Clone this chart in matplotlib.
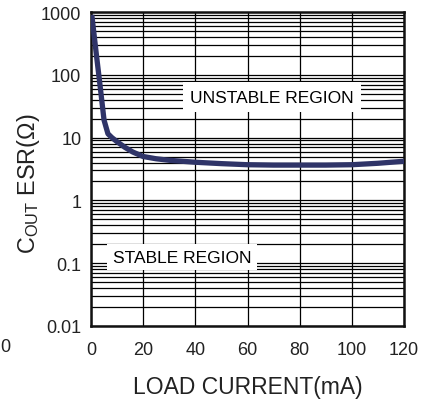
import numpy as np
import matplotlib
matplotlib.use('Agg')
import matplotlib.pyplot as plt

plt.rcParams['font.family'] = ['Liberation Sans', 'DejaVu Sans']
plt.rcParams['mathtext.default'] = 'regular'

# curva (corrente em mA, ESR em ohm)
corrente = [0.3, 2, 3.5, 5, 6.5, 8, 10, 13, 16, 20, 25, 30, 40, 50, 60, 70, 80, 90, 100, 110, 120]
esr = [900, 220, 66, 19, 11.5, 10, 8.6, 7.0, 5.9, 5.0, 4.6, 4.35, 4.05, 3.85, 3.7, 3.65, 3.65, 3.65, 3.7, 3.9, 4.2]

x_ticks = [0, 20, 40, 60, 80, 100, 120]
y_ticks = [0.01, 0.1, 1, 10, 100, 1000]
y_labels = ['0.01', '0.1', '1', '10', '100', '1000']

fig = plt.figure(figsize=(4.23, 4.02), dpi=100)
ax = fig.add_axes([91 / 423, 1 - 327 / 402, 313 / 423, 314 / 402])

ax.plot(corrente, esr, color='#2f3468', lw=3.8, solid_capstyle='butt', zorder=3)

ax.set_yscale('log')
ax.set_xlim(0, 120)
ax.set_ylim(0.01, 1000)
ax.set_xticks(x_ticks)
ax.set_yticks(y_ticks)
ax.set_yticklabels(y_labels)
ax.tick_params(axis='both', which='both', length=0, labelsize=13, colors='#222222')
ax.tick_params(axis='x', pad=11)
ax.tick_params(axis='y', pad=7)

ax.grid(True, which='major', color='black', lw=0.9)
ax.grid(True, which='minor', axis='y', color='black', lw=0.9)
ax.set_axisbelow(True)

for s in ax.spines.values():
    s.set_linewidth(1.8)
    s.set_color('#111111')

ax.set_xlabel('LOAD CURRENT(mA)', fontsize=16.5, color='#222222', labelpad=12)
ax.set_ylabel(r'C$_{OUT}$ ESR(Ω)', fontsize=16.8, color='#222222')
ax.yaxis.set_label_coords(-0.155, 0.455)

ax.text(69.5, 44, 'UNSTABLE REGION', fontsize=12.5, ha='center', va='center', zorder=2,
        bbox=dict(facecolor='white', edgecolor='none', pad=5.2))
ax.text(35, 0.125, 'STABLE REGION', fontsize=12.5, ha='center', va='center', zorder=2,
        bbox=dict(facecolor='white', edgecolor='none', pad=4))

fig.text(0, 1 - 348 / 402, '0', fontsize=13, ha='left', va='center', color='#222222')

fig.savefig('out.png', dpi=100)
